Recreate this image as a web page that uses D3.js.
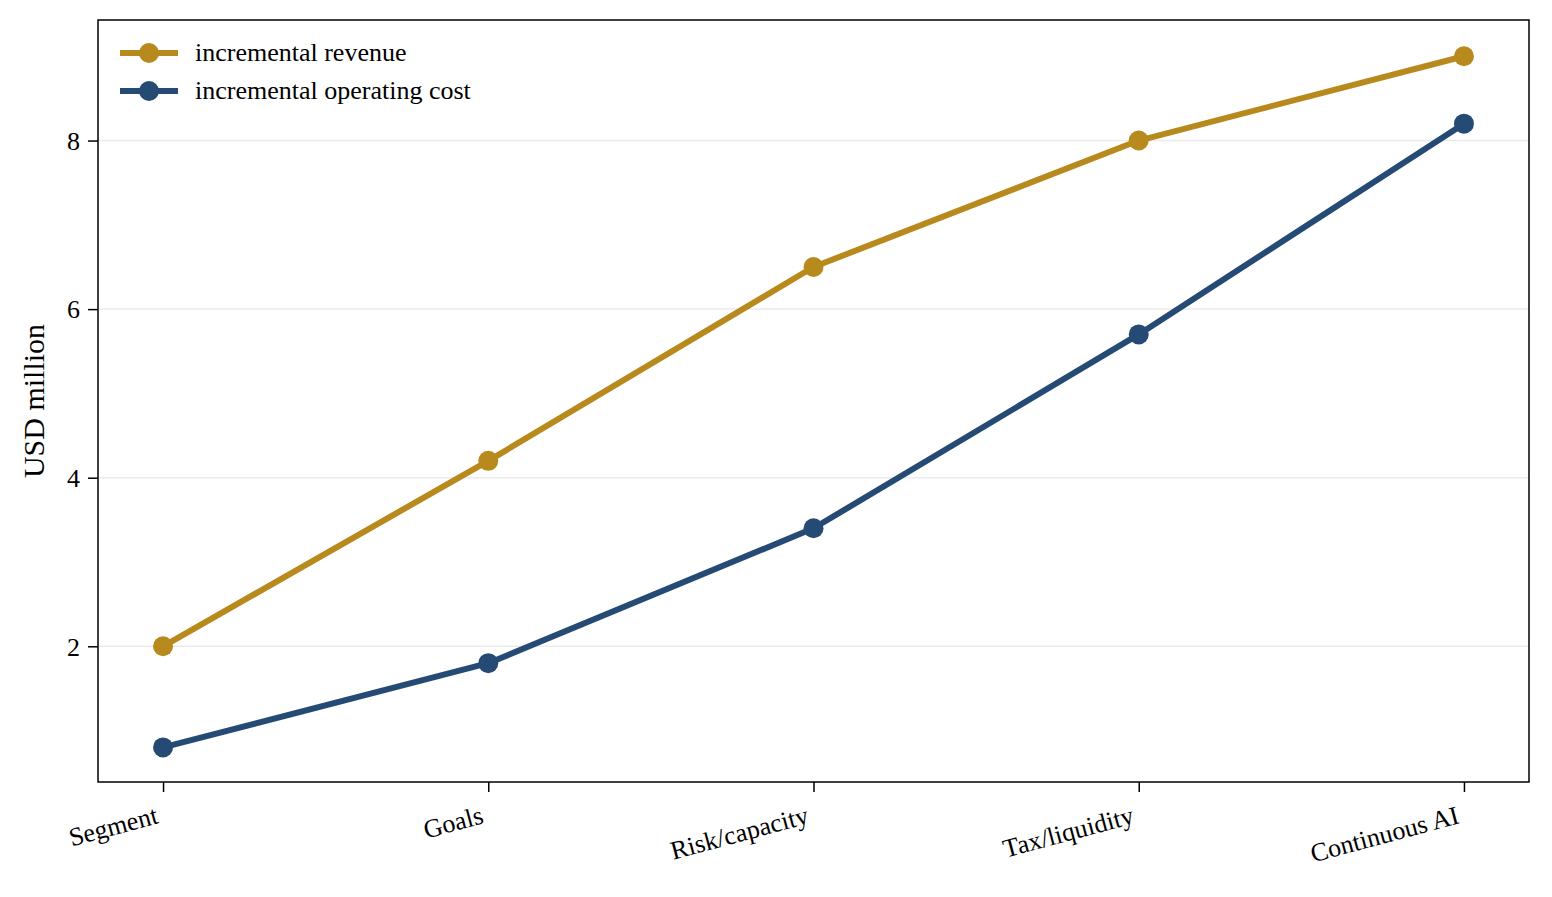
<!DOCTYPE html>
<html><head><meta charset="utf-8">
<script src="https://cdn.jsdelivr.net/npm/d3@7"></script>
<style>body{margin:0;background:#fff}svg{display:block}text{font-family:"Liberation Serif","Times New Roman",serif;fill:#000}</style>
</head><body>
<svg id="c" width="1552" height="897"></svg>
<script>
const categories = ["Segment","Goals","Risk/capacity","Tax/liquidity","Continuous AI"];
const revenue = [2.0, 4.2, 6.5, 8.0, 9.0];
const cost = [0.8, 1.8, 3.4, 5.7, 8.2];
const yTicks = [2,4,6,8];
const yDomain = [0.39, 9.43];
const seriesNames = ["incremental revenue","incremental operating cost"];
const colors = ["#B8891C","#254B74"];

const svg = d3.select("#c");
const L=98, R=1529, T=20, B=782;
const x = d3.scaleLinear().domain([-0.2, categories.length-1+0.2]).range([L,R]);
const y = d3.scaleLinear().domain(yDomain).range([B,T]);

// grid
svg.append("g").selectAll("line").data(yTicks).join("line")
  .attr("x1",L).attr("x2",R).attr("y1",d=>y(d)).attr("y2",d=>y(d))
  .attr("stroke","#ebebeb").attr("stroke-width",1.5);

// axes
const yAxis = svg.append("g").attr("transform",`translate(${L},0)`)
  .call(d3.axisLeft(y).tickValues(yTicks).tickSize(10).tickPadding(8).tickFormat(d3.format("d")));
yAxis.attr("font-size",null).attr("font-family",null);
yAxis.select(".domain").remove();
yAxis.selectAll("line").attr("stroke","#000").attr("stroke-width",1.5);
yAxis.selectAll("text").attr("font-size",26).attr("dy","0.34em");

const xAxis = svg.append("g").attr("transform",`translate(0,${B})`)
  .call(d3.axisBottom(x).tickValues(d3.range(categories.length)).tickSize(10).tickFormat(i=>categories[i]));
xAxis.attr("font-size",null).attr("font-family",null);
xAxis.select(".domain").remove();
xAxis.selectAll("line").attr("stroke","#000").attr("stroke-width",1.5);
xAxis.selectAll("text").attr("font-size",26)
  .attr("text-anchor","end").attr("dy",null).attr("y",null)
  .attr("transform","translate(-4,41) rotate(-15)");

// frame
svg.append("rect").attr("x",L).attr("y",T).attr("width",R-L).attr("height",B-T)
  .attr("fill","none").attr("stroke","#000").attr("stroke-width",1.5);

// y label
svg.append("text").attr("transform",`translate(44,${(T+B)/2}) rotate(-90)`)
  .attr("text-anchor","middle").attr("font-size",30).text("USD million");

const line = d3.line().x((d,i)=>x(i)).y(d=>y(d));
[revenue, cost].forEach((s,k)=>{
  svg.append("path").datum(s).attr("d",line).attr("fill","none")
    .attr("stroke",colors[k]).attr("stroke-width",6).attr("stroke-linejoin","round");
  svg.append("g").selectAll("circle").data(s).join("circle")
    .attr("cx",(d,i)=>x(i)).attr("cy",d=>y(d)).attr("r",10).attr("fill",colors[k]);
});

// legend
const lg = svg.append("g");
seriesNames.forEach((n,k)=>{
  const yy = 53 + k*38;
  lg.append("line").attr("x1",120).attr("x2",178).attr("y1",yy).attr("y2",yy)
    .attr("stroke",colors[k]).attr("stroke-width",6);
  lg.append("circle").attr("cx",149).attr("cy",yy).attr("r",10).attr("fill",colors[k]);
  lg.append("text").attr("x",195).attr("y",yy+8).attr("font-size",26).text(n);
});
</script>
</body></html>
